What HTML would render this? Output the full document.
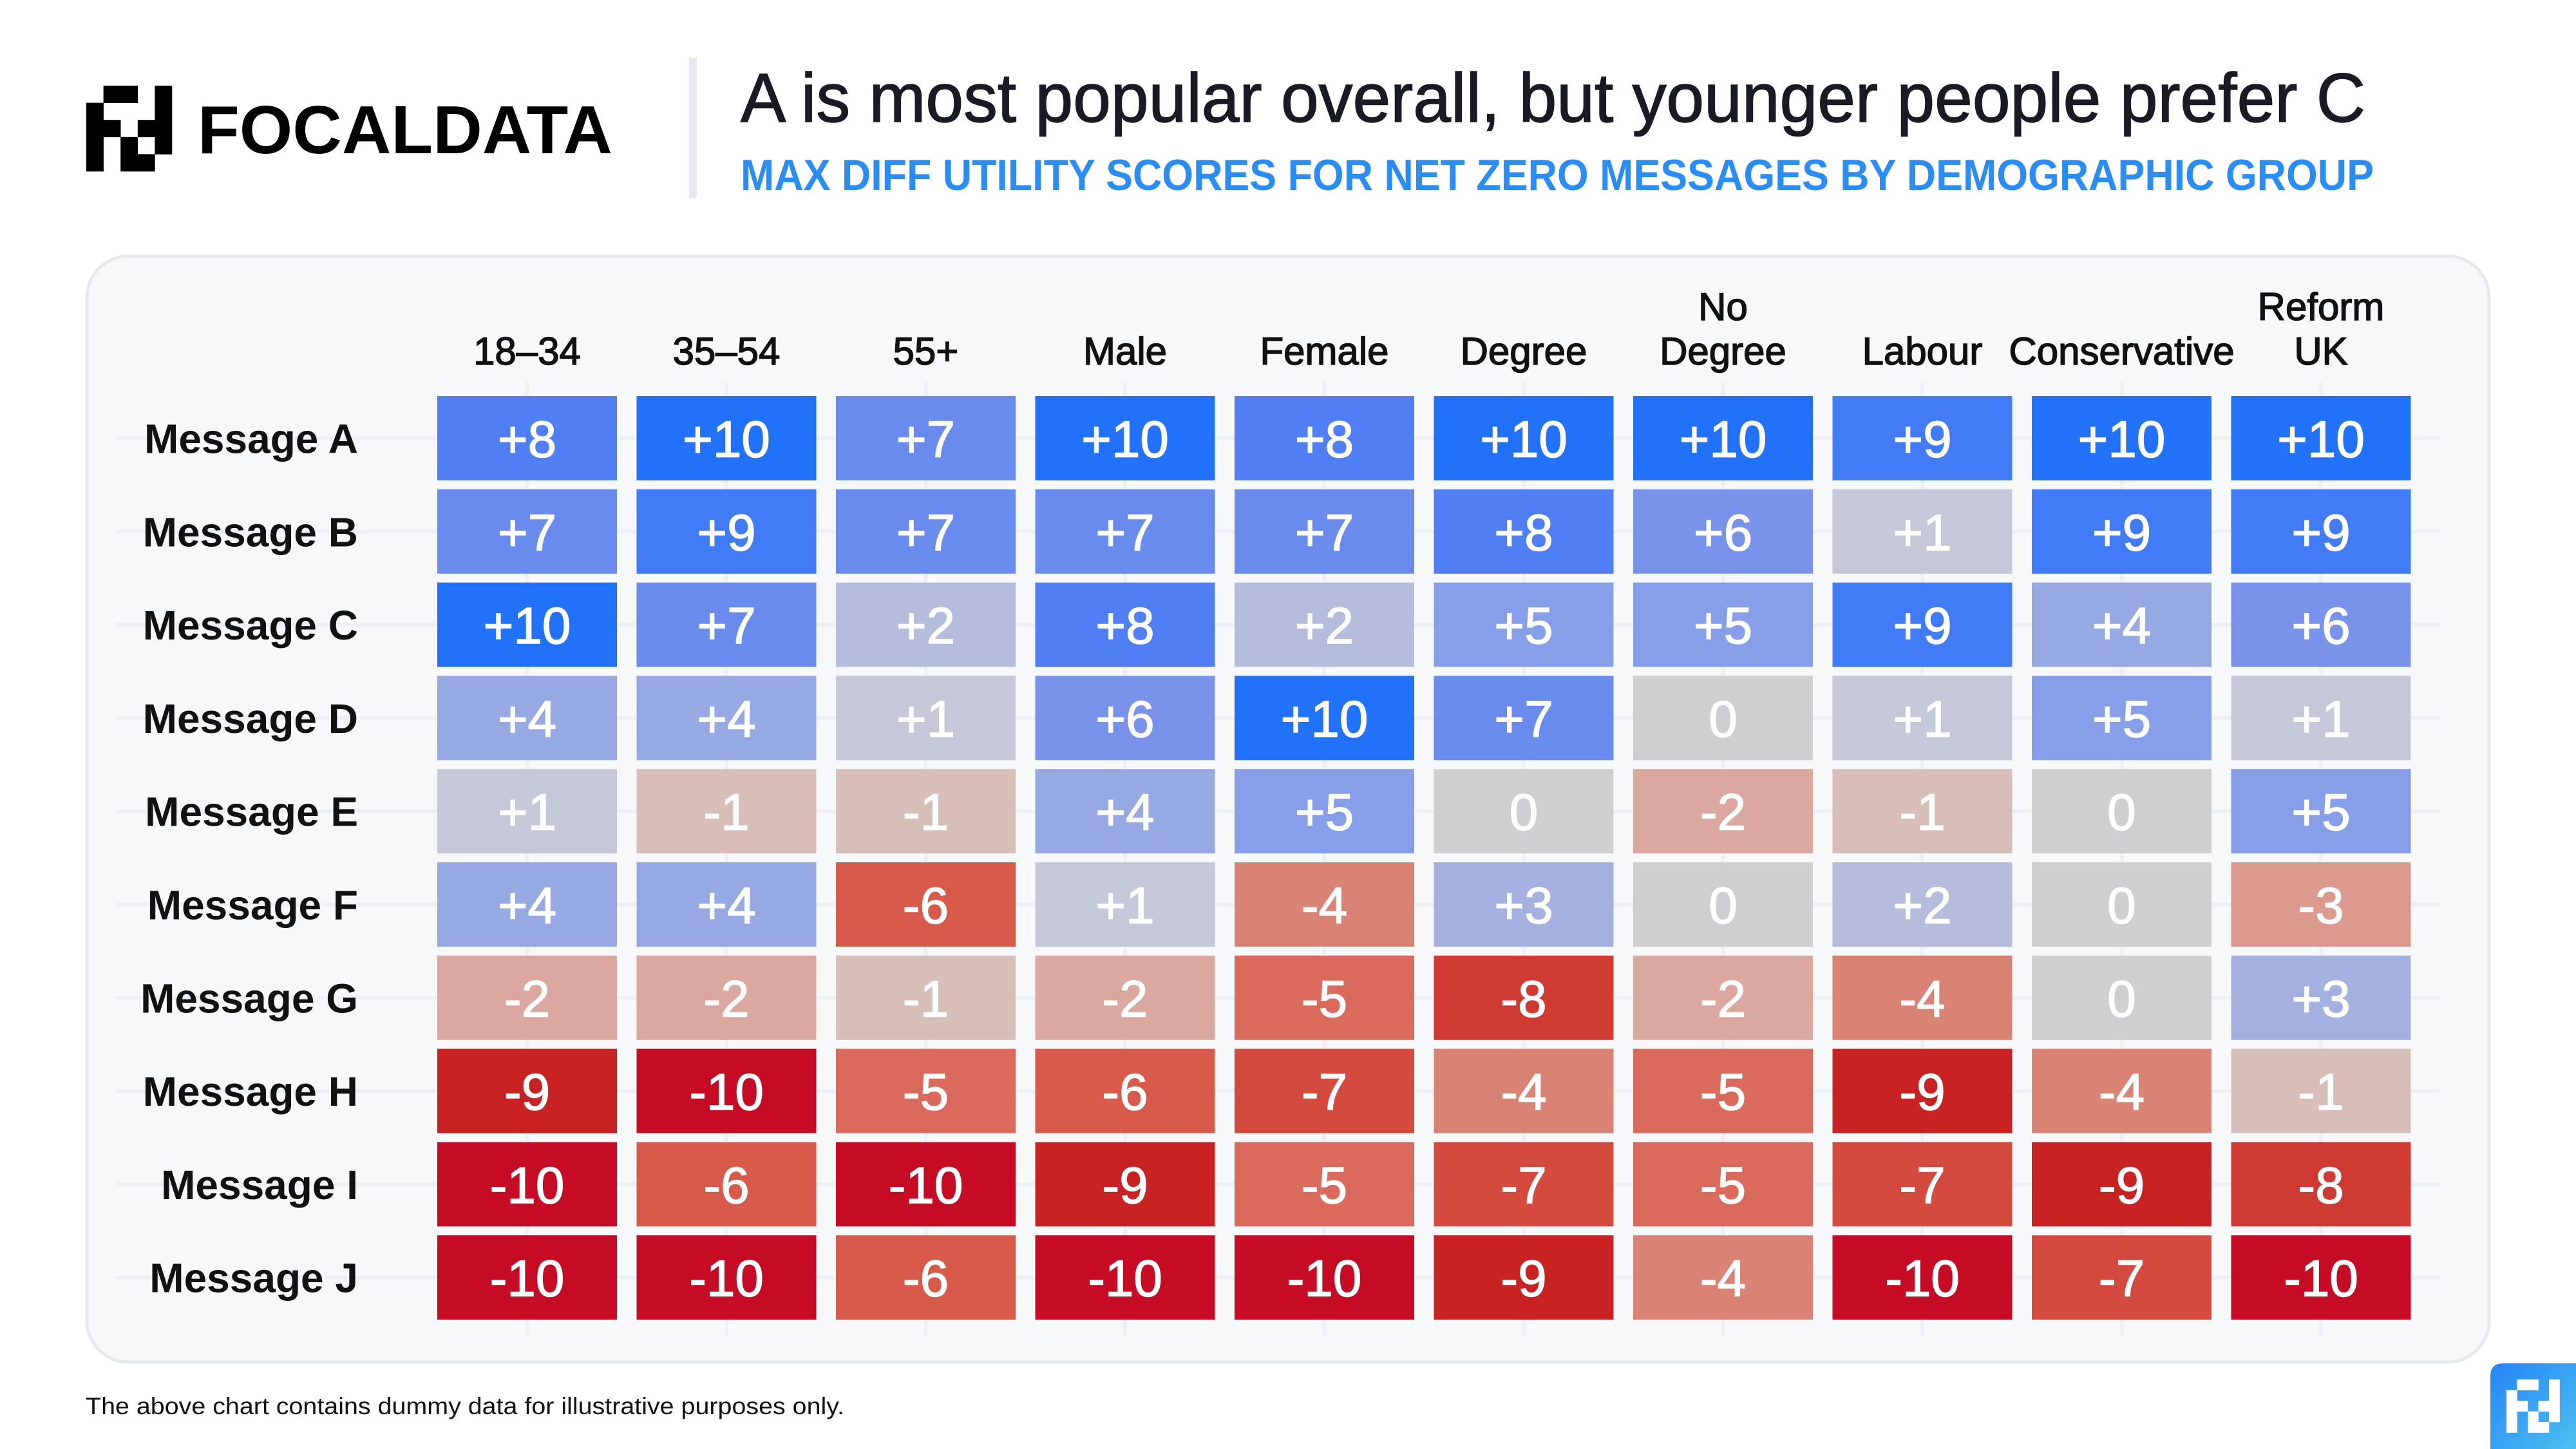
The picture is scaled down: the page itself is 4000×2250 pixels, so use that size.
<!DOCTYPE html>
<html><head><meta charset="utf-8"><style>
html,body{margin:0;padding:0;background:#fff}
svg{display:block}
text{font-family:"Liberation Sans",sans-serif}
</style></head><body>
<svg id="chart" width="4000" height="2250" viewBox="0 0 4000 2250" xmlns="http://www.w3.org/2000/svg">
<g id="logo"></g>
<text x="307" y="238" font-size="106" font-weight="bold" fill="#000" textLength="644" lengthAdjust="spacingAndGlyphs">FOCALDATA</text>
<rect x="1070" y="90" width="12" height="217" fill="#e8e9ee"/>
<text x="1150" y="189" font-size="108" fill="#1a1a22" stroke="#1a1a22" stroke-width="1.5" textLength="2523" lengthAdjust="spacingAndGlyphs">A is most popular overall, but younger people prefer C</text>
<text x="1150" y="295" font-size="68" font-weight="bold" fill="#2a8cf5" textLength="2536" lengthAdjust="spacingAndGlyphs">MAX DIFF UTILITY SCORES FOR NET ZERO MESSAGES BY DEMOGRAPHIC GROUP</text>
<rect x="135" y="398" width="3730" height="1717" rx="64" fill="#f7f8fa" stroke="#e6e8ec" stroke-width="5"/>
<g id="grid"></g>
<g id="cells"></g>
<g id="heads"></g>
<g id="rowlabels"></g>
<text x="133" y="2196" font-size="37" fill="#111" textLength="1178" lengthAdjust="spacingAndGlyphs">The above chart contains dummy data for illustrative purposes only.</text>
<defs><linearGradient id="bg" x1="0" y1="0" x2="1" y2="1"><stop offset="0" stop-color="#2585f7"/><stop offset="1" stop-color="#4cc0ef"/></linearGradient></defs>
<path d="M3867 2250 V2137 Q3867 2117 3887 2117 H4000 V2250 Z" fill="url(#bg)"/>
<g id="logo2"></g>
</svg>
<script>
const rows = ["Message A","Message B","Message C","Message D","Message E","Message F","Message G","Message H","Message I","Message J"];
const cols = [["18–34"],["35–54"],["55+"],["Male"],["Female"],["Degree"],["No","Degree"],["Labour"],["Conservative"],["Reform","UK"]];
const rowA = [8,10,7,10,8,10,10,9,10,10];
const rowB = [7,9,7,7,7,8,6,1,9,9];
const rowC = [10,7,2,8,2,5,5,9,4,6];
const rowD = [4,4,1,6,10,7,0,1,5,1];
const rowE = [1,-1,-1,4,5,0,-2,-1,0,5];
const rowF = [4,4,-6,1,-4,3,0,2,0,-3];
const rowG = [-2,-2,-1,-2,-5,-8,-2,-4,0,3];
const rowH = [-9,-10,-5,-6,-7,-4,-5,-9,-4,-1];
const rowI = [-10,-6,-10,-9,-5,-7,-5,-7,-9,-8];
const rowJ = [-10,-10,-6,-10,-10,-9,-4,-10,-7,-10];
const values = [rowA,rowB,rowC,rowD,rowE,rowF,rowG,rowH,rowI,rowJ];

const NS="http://www.w3.org/2000/svg";
function mk(tag,attrs,parent){const e=document.createElementNS(NS,tag);for(const k in attrs)e.setAttribute(k,attrs[k]);parent.appendChild(e);return e;}
const palette={"10":"#2172f8","9":"#417bf5","8":"#507ff3","7":"#6a8bee","6":"#7993eb","5":"#879fe8","4":"#97a9e3","3":"#a3b0e0","2":"#b6bcdb","1":"#c4c8d8","0":"#cfcfd1","-1":"#d8beb9","-2":"#dba89f","-3":"#db9a8d","-4":"#da8274","-5":"#d96a5c","-6":"#d75a4b","-7":"#d44a3e","-8":"#cf3a33","-9":"#c82222","-10":"#c60c24"};
function color(v){return palette[String(Math.max(-10,Math.min(10,Math.round(v))))];}
const x0=679,pitchX=309.5,cw=279,y0=615,pitchY=144.8,ch=131;
const xs=i=>x0+i*pitchX, ys=j=>y0+j*pitchY;

const grid=document.getElementById('grid');
rows.forEach((r,j)=>{const l=mk('rect',{x:180,y:ys(j)+ch/2-3,width:3610,height:6,fill:'#edf0f5'},grid);

});
cols.forEach((c,i)=>{const l=mk('rect',{x:xs(i)+cw/2-3,y:594,width:6,height:1480,fill:'#edf0f5'},grid);

});

const cells=document.getElementById('cells');
values.forEach((row,j)=>row.forEach((v,i)=>{
 const r=mk('rect',{x:xs(i),y:ys(j),width:cw,height:ch,fill:color(v)},cells);
 
 
 const t=mk('text',{x:xs(i)+cw/2,y:ys(j)+ch/2+29,'font-size':80,fill:'#fff',stroke:'#fff','stroke-width':1.5,'text-anchor':'middle'},cells);
 t.textContent=(v>0?'+':'')+v;
 
 
}));

const heads=document.getElementById('heads');
cols.forEach((c,i)=>{c.forEach((line,k)=>{
 const t=mk('text',{x:xs(i)+cw/2,y:566-(c.length-1-k)*69,'font-size':60,fill:'#111',stroke:'#111','stroke-width':1.5,'text-anchor':'middle'},heads);
 t.textContent=line;
 
 
});});

const rl=document.getElementById('rowlabels');
rows.forEach((r,j)=>{const t=mk('text',{x:556,y:ys(j)+ch/2+23,'font-size':64,'font-weight':'bold',fill:'#111','text-anchor':'end'},rl);
 t.textContent=r;
 
 });

const pattern=[[1,2,4],[0,4],[0,1,3,4],[0,2,4],[0,2,3]];
function drawIcon(g,x,y,s,fill){pattern.forEach((cs,r)=>cs.forEach(c=>{const e=mk('rect',{x:x+c*s,y:y+r*s,width:s+0.3,height:s+0.3,fill:fill},g);
 
 }));}
drawIcon(document.getElementById('logo'),134,133,26.6,'#000');
drawIcon(document.getElementById('logo2'),3892,2142,16.5,'#fff');
</script>
</body></html>
